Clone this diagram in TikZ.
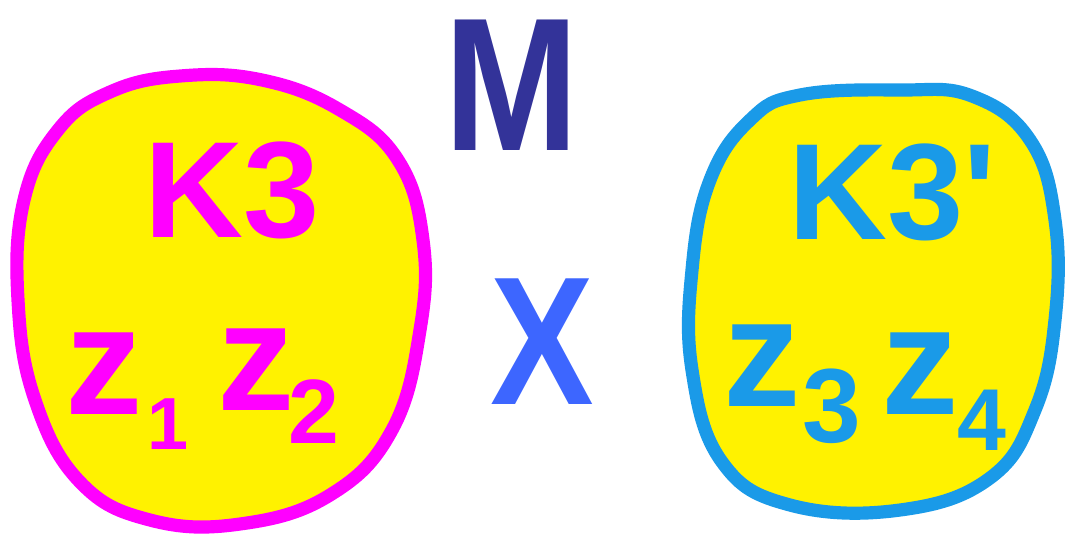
\documentclass[tikz,border=0pt]{standalone}
\usepackage{fontspec}
\setmainfont{Liberation Sans}
\definecolor{mag}{HTML}{FF00FF}
\definecolor{cy}{HTML}{1A9AE8}
\definecolor{mblue}{HTML}{333399}
\definecolor{xblue}{HTML}{3D66FF}
\begin{document}
\begin{tikzpicture}[x=0.02cm,y=-0.02cm]
\tikzset{
  blob/.style={fill=yellow, line width=7.5pt, line join=round},
  big/.style={inner sep=0pt, font=\bfseries\fontsize{78}{78}\selectfont},
  zlbl/.style={inner sep=0pt, font=\bfseries\fontsize{88}{88}\selectfont},
  sub/.style={inner sep=0pt, font=\bfseries\fontsize{#1}{#1}\selectfont},
  sub/.default=55
}
\useasboundingbox (0,0) rectangle (1067,539);
% left blob
\draw[blob, draw=mag] plot[smooth cycle, tension=0.7] coordinates {
 (180,76) (262,80) (340,110) (398,160) (423,240) (420,330) (392,430) (330,495)
 (240,524) (150,520) (80,482) (35,400) (18,300) (24,200) (58,130) (110,92)};
% right blob
\draw[blob, draw=cy] plot[smooth cycle, tension=0.7] coordinates {
 (800,95) (900,90) (972,96) (1030,140) (1055,220) (1055,320) (1035,410) (990,478)
 (900,510) (790,505) (722,462) (692,370) (692,270) (710,180) (750,120)};
% texts
\node[big, text=mag] (k3) at (232,190) {K3};
\node[zlbl, text=mag] (z1) at (104,374) {z};
\node[sub=42, text=mag] (s1) at (168,424) {1};
\node[zlbl, text=mag] (z2) at (256,370) {z};
\node[sub=52, text=mag] (s2) at (314,412) {2};
\node[inner sep=0pt, text=mblue, font=\bfseries\fontsize{108}{108}\selectfont, xscale=0.85] (m) at (512,85) {M};
\node[inner sep=0pt, text=xblue, font=\bfseries\fontsize{104}{104}\selectfont, xscale=0.85] (x) at (542,342) {X};
\node[big, text=cy] (k3p) at (892,192) {K3\textquotesingle};
\node[zlbl, text=cy] (z3) at (762,366) {z};
\node[sub=60, text=cy] (s3) at (832,406) {3};
\node[zlbl, text=cy] (z4) at (920,374) {z};
\node[sub=50, text=cy] (s4) at (982,420) {4};
\end{tikzpicture}
\end{document}
